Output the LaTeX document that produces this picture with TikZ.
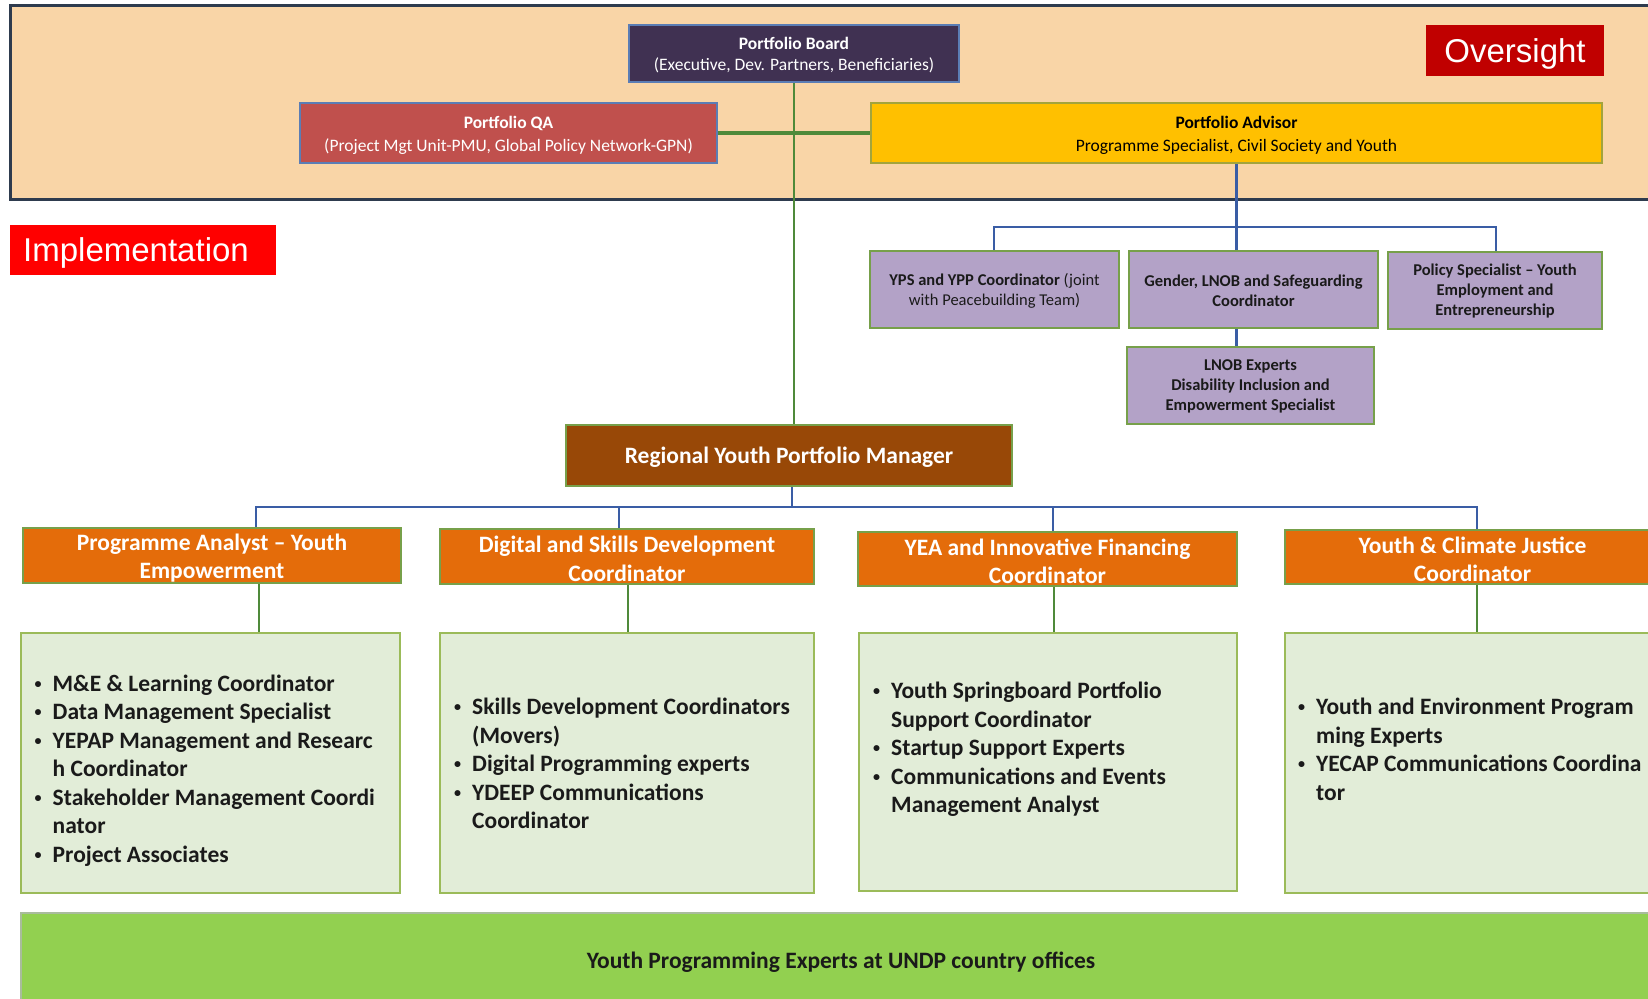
\documentclass[tikz,border=0pt]{standalone}
\usepackage{fontspec}
\setmainfont{Carlito}
\newfontfamily\labelfont{Liberation Sans}

\definecolor{bandfill}{HTML}{F9D5A7}
\definecolor{bandedge}{HTML}{2E3B4E}
\definecolor{boardfill}{HTML}{403152}
\definecolor{bluedge}{HTML}{5B7DB5}
\definecolor{qafill}{HTML}{C0504D}
\definecolor{advfill}{HTML}{FFC000}
\definecolor{advedge}{HTML}{A3A43C}
\definecolor{overred}{HTML}{C00000}
\definecolor{implred}{HTML}{FF0000}
\definecolor{purplefill}{HTML}{B3A2C7}
\definecolor{greenedge}{HTML}{77A04A}
\definecolor{mgrfill}{HTML}{984807}
\definecolor{orangefill}{HTML}{E46C0A}
\definecolor{listfill}{HTML}{E2EDD8}
\definecolor{listedge}{HTML}{9BBB59}
\definecolor{barfill}{HTML}{92D050}
\definecolor{baredge}{HTML}{A9BC9C}
\definecolor{busblue}{HTML}{3A5DA5}
\definecolor{stemgreen}{HTML}{4F8A3A}
\definecolor{darktext}{HTML}{1A1A1A}

\newcommand\fsBoard{\fontsize{17.5}{21}\selectfont}
\newcommand\fsHead{\fontsize{17.5}{23}\selectfont}
\newcommand\fsPurple{\fontsize{16.5}{20}\selectfont}
\newcommand\fsBig{\fontsize{23.5}{28.5}\selectfont}
\newcommand\fsLabel{\fontsize{33}{38}\selectfont}
% small list bullet followed by the gap up to the item text
\newcommand\itemdot{\makebox[18pt][l]{\raisebox{3pt}{\scalebox{0.6}{•}}}}

% band at the bottom, links above it, boxes on top
\pgfdeclarelayer{bandlayer}
\pgfdeclarelayer{linklayer}
\pgfsetlayers{bandlayer,linklayer,main}

\begin{document}
\begin{tikzpicture}[x=1pt,y=-1pt,
  box/.style={inner sep=0pt, outer sep=0pt, anchor=north west},
  boxtext/.style={inner sep=0pt, align=center},
  headbox/.style={box, draw=bluedge, line width=1.5pt},
  purplebox/.style={box, fill=purplefill, draw=greenedge, line width=1.5pt},
  purpletext/.style={boxtext, text=darktext, font=\fsPurple\bfseries},
  orangebox/.style={box, fill=orangefill, draw=greenedge, line width=1.5pt},
  bigtext/.style={boxtext, text=white, font=\fsBig\bfseries},
  listbox/.style={box, fill=listfill, draw=listedge, line width=1.5pt},
  listtext/.style={anchor=west, inner sep=0pt, align=left, font=\fsBig\bfseries, text=darktext},
  tagtext/.style={inner sep=0pt, text=white, font=\fsLabel\labelfont},
  busline/.style={draw=busblue, line width=2.5pt},
  stemline/.style={draw=stemgreen, line width=2.5pt},
]
\clip (0,0) rectangle (1648,998);

% oversight band
\begin{pgfonlayer}{bandlayer}
\fill[white] (0,0) rectangle (1648,998);
\node[box, fill=bandfill, draw=bandedge, line width=3pt,
  minimum width=1670pt, minimum height=193pt] (band) at (10,6) {};
\end{pgfonlayer}

% oversight boxes and the manager
\node[headbox, fill=boardfill, minimum width=330pt, minimum height=57pt] (board) at (629,25) {};
\node[headbox, fill=qafill, minimum width=417pt, minimum height=60pt] (qa) at (300,103) {};
\node[headbox, fill=advfill, draw=advedge, minimum width=731pt, minimum height=60pt] (adv) at (871,103) {};
\node[box, fill=mgrfill, draw=greenedge, line width=1.5pt,
  minimum width=446pt, minimum height=61pt] (mgr) at (566,425) {};

\node[boxtext, text=white, font=\fsBoard] (boardt) at ([yshift=-2pt]board.center)
  {\textbf{Portfolio Board}\\(Executive, Dev. Partners, Beneficiaries)};
\node[boxtext, text=white, font=\fsHead] (qat) at ([yshift=-2pt]qa.center)
  {\textbf{Portfolio QA}\\(Project Mgt Unit-PMU, Global Policy Network-GPN)};
\node[boxtext, text=black, font=\fsHead] (advt) at ([yshift=-2pt]adv.center)
  {\textbf{Portfolio Advisor}\\Programme Specialist, Civil Society and Youth};
\node[bigtext] (mgrt) at ([yshift=-2pt]mgr.center) {Regional Youth Portfolio Manager};

% section tags
\node[box, fill=overred, minimum width=178pt, minimum height=51pt] (oversight) at (1426,25) {};
\node[tagtext] (oversightt) at ([yshift=-3pt]oversight.center) {Oversight};
\node[box, fill=implred, minimum width=266pt, minimum height=50pt] (impl) at (10,225) {};
\node[tagtext, anchor=west] (implt) at ([xshift=13pt,yshift=-3pt]impl.west) {Implementation};

% advisory team
\node[purplebox, minimum width=249pt, minimum height=77pt] (yps) at (870,251) {};
\node[purplebox, minimum width=249pt, minimum height=77pt] (gen) at (1129,251) {};
\node[purplebox, minimum width=214pt, minimum height=77pt] (pol) at (1388,252) {};
\node[purplebox, minimum width=247pt, minimum height=77pt] (lnob) at (1127,347) {};
\node[purpletext] (ypst) at ([yshift=-1pt]yps.center)
  {YPS and YPP Coordinator \mdseries(joint\\\mdseries with Peacebuilding Team)};
\node[purpletext] (gent) at ([yshift=-1pt]gen.center) {Gender, LNOB and Safeguarding\\Coordinator};
\node[purpletext] (polt) at ([yshift=-1pt]pol.center) {Policy Specialist -- Youth\\Employment and\\Entrepreneurship};
\node[purpletext] (lnobt) at ([yshift=-1pt]lnob.center) {LNOB Experts\\Disability Inclusion and\\Empowerment Specialist};

% coordinators
\node[orangebox, minimum width=378pt, minimum height=55pt] (o1) at (23,528) {};
\node[orangebox, minimum width=374pt, minimum height=55pt] (o2) at (440,529) {};
\node[orangebox, minimum width=379pt, minimum height=54pt] (o3) at (858,532) {};
\node[orangebox, minimum width=375pt, minimum height=54pt] (o4) at (1285,530) {};
\node[bigtext] (o1t) at ([yshift=-2.5pt]o1.center) {Programme Analyst -- Youth\\Empowerment};
\node[bigtext] (o2t) at ([yshift=-2.5pt]o2.center) {Digital and Skills Development\\Coordinator};
\node[bigtext] (o3t) at ([yshift=-2.5pt]o3.center) {YEA and Innovative Financing\\Coordinator};
\node[bigtext] (o4t) at ([yshift=-2.5pt]o4.center) {Youth \& Climate Justice\\Coordinator};

% team lists
\node[listbox, minimum width=379pt, minimum height=260pt] (g1) at (21,633) {};
\node[listbox, minimum width=374pt, minimum height=260pt] (g2) at (440,633) {};
\node[listbox, minimum width=378pt, minimum height=258pt] (g3) at (859,633) {};
\node[listbox, minimum width=375pt, minimum height=260pt] (g4) at (1285,633) {};

\node[listtext] (t1) at (34.5,771) {\begin{tabular}{@{}l@{}l@{}}
  \itemdot & M\&E \& Learning Coordinator\\
  \itemdot & Data Management Specialist\\
  \itemdot & YEPAP Management and Researc\\
           & h Coordinator\\
  \itemdot & Stakeholder Management Coordi\\
           & nator\\
  \itemdot & Project Associates
\end{tabular}};
\node[listtext] (t2) at (454,766) {\begin{tabular}{@{}l@{}l@{}}
  \itemdot & Skills Development Coordinators\\
           & (Movers)\\
  \itemdot & Digital Programming experts\\
  \itemdot & YDEEP Communications\\
           & Coordinator
\end{tabular}};
\node[listtext] (t3) at (873,750) {\begin{tabular}{@{}l@{}l@{}}
  \itemdot & Youth Springboard Portfolio\\
           & Support Coordinator\\
  \itemdot & Startup Support Experts\\
  \itemdot & Communications and Events\\
           & Management Analyst
\end{tabular}};
\node[listtext] (t4) at (1298,752) {\begin{tabular}{@{}l@{}l@{}}
  \itemdot & Youth and Environment Program\\
           & ming Experts\\
  \itemdot & YECAP Communications Coordina\\
           & tor
\end{tabular}};

% country offices
\node[box, fill=barfill, draw=baredge, line width=2pt, minimum width=1640pt, minimum height=100pt] (bar) at (21,913) {};
\node[inner sep=0pt, font=\fsBig\bfseries, text=darktext] (bartext) at (841,962) {Youth Programming Experts at UNDP country offices};

% connectors, drawn beneath the boxes
\coordinate (busL) at (994,227);
\coordinate (busR) at (1496,227);
\coordinate (mbus) at (792,507);
\coordinate (d1) at (256,507);
\coordinate (d2) at (619,507);
\coordinate (d3) at (1053,507);
\coordinate (d4) at (1477,507);
\coordinate (e1) at (259,0);
\coordinate (e2) at (628,0);
\coordinate (e3) at (1054,0);
\coordinate (e4) at (1477,0);
\begin{pgfonlayer}{linklayer}
\draw[draw=stemgreen, line width=2pt] (board.south) -- (board.south |- mgr.north);
\draw[draw=stemgreen, line width=3.5pt] (qa.east) -- (adv.west);

\draw[busline] (adv.south) -- (adv.south |- gen.north);
\draw[busline] (busL |- yps.north) -- (busL) -- (busR) -- (busR |- pol.north);
\draw[busline] (adv.south |- gen.south) -- (adv.south |- lnob.north);

\draw[busline] (mgr.south -| mbus) -- (mbus);
\draw[busline] (d1 |- o1.north) -- (d1) -- (d4) -- (d4 |- o4.north);
\draw[busline] (d2) -- (d2 |- o2.north);
\draw[busline] (d3) -- (d3 |- o3.north);

\draw[stemline] (o1.south -| e1) -- (e1 |- g1.north);
\draw[stemline] (o2.south -| e2) -- (e2 |- g2.north);
\draw[stemline] (o3.south -| e3) -- (e3 |- g3.north);
\draw[stemline] (o4.south -| e4) -- (e4 |- g4.north);
\end{pgfonlayer}
\end{tikzpicture}
\end{document}
